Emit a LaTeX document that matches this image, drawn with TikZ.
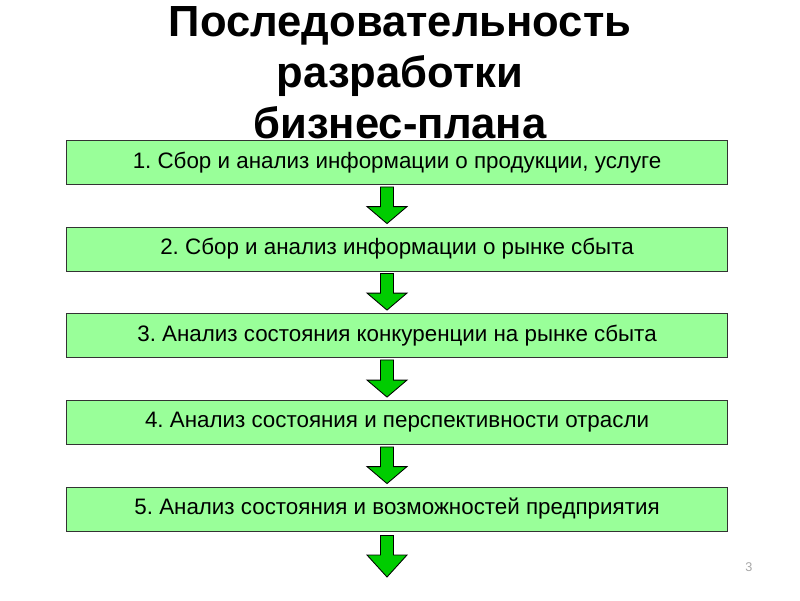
\documentclass[tikz,border=0pt]{standalone}
\usepackage{fontspec}
\setmainfont{Liberation Sans}
\usepackage{tikz}
\usetikzlibrary{calc,positioning}
\colorlet{boxfill}{green!40!white}
\definecolor{arrowfill}{RGB}{0,204,0}
\frenchspacing

\tikzset{
  stepbox/.style={draw=black!80, line width=0.6pt, fill=boxfill,
    minimum width=16.5cm, minimum height=1.1cm, inner sep=0pt,
    font=\fontsize{15.9}{17}\selectfont},
  blockarrow/.style={draw=black, line width=0.6pt, fill=arrowfill, line join=miter}
}

\begin{document}
\begin{tikzpicture}[x=0.025cm, y=-0.025cm]
      % page frame, 800 x 600
      \useasboundingbox (0,0) rectangle (800,600);

      % Title (base = baseline of its last line)
      \node[font=\bfseries\fontsize{31}{36}\selectfont, align=center, anchor=base]
        (title) at (400,138) {Последовательность\\разработки\\бизнес-плана};

      % Steps
      \node[stepbox] (s1) at (397,162.5) {1. Сбор и анализ информации о продукции, услуге};
      \node[stepbox] (s2) at (397,249)   {2. Сбор и анализ информации о рынке сбыта};
      \node[stepbox] (s3) at (397,335.5) {3. Анализ состояния конкуренции на рынке сбыта};
      \node[stepbox] (s4) at (397,422.5) {4. Анализ состояния и перспективности отрасли};
      \node[stepbox] (s5) at (397,509)   {5. Анализ состояния и возможностей предприятия};
      \coordinate (end) at (387,577);

      % Block arrows between the steps (shaft 13, head 40 wide, 17 long)
      \foreach \a/\b in {s1/s2, s2/s3, s3/s4, s4/s5}{
        \coordinate (t) at ($(\a.south)+(-10,2)$);
        \coordinate (h) at ($(\b.north)+(-10,-3)$);
        \draw[blockarrow] ($(t)+(-6.5,0)$) -- ($(h)+(-6.5,-17)$) -- ($(h)+(-20,-17)$)
          -- (h) -- ($(h)+(20,-17)$) -- ($(h)+(6.5,-17)$) -- ($(t)+(6.5,0)$) -- cycle;
      }
      % last arrow, free end
      \coordinate (t) at ($(s5.south)+(-10,4)$);
      \draw[blockarrow] ($(t)+(-6.5,0)$) -- ($(end)+(-6.5,-22)$) -- ($(end)+(-20,-22)$)
        -- (end) -- ($(end)+(20,-22)$) -- ($(end)+(6.5,-22)$) -- ($(t)+(6.5,0)$) -- cycle;

      % Slide number
      \node[gray!70, font=\fontsize{9}{10}\selectfont] (num) at (749,567) {3};
\end{tikzpicture}
\end{document}
